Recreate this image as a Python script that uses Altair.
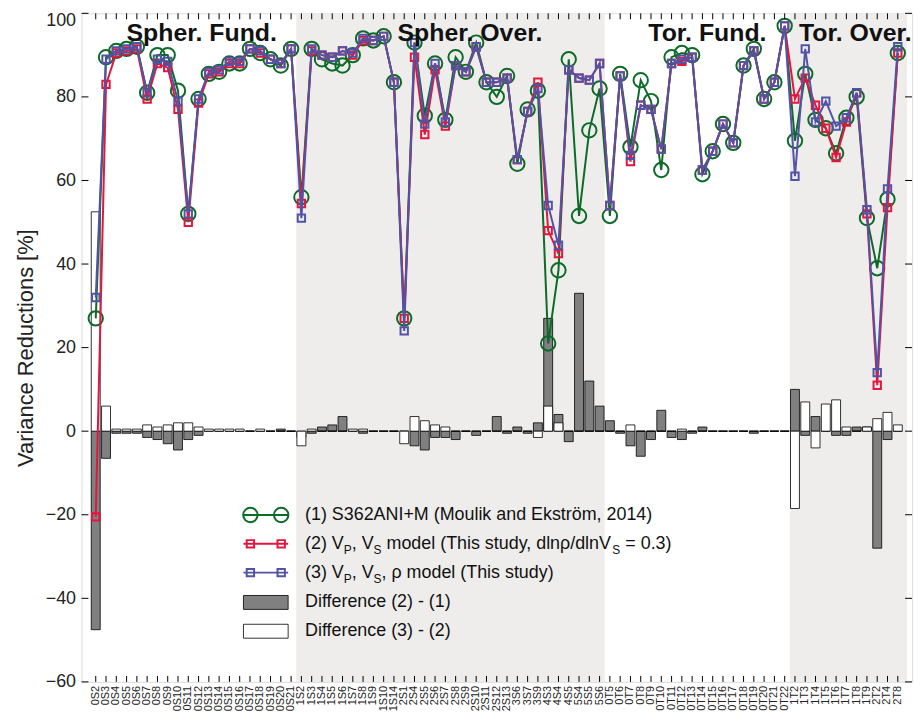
import altair as alt
import pandas as pd

modes = ["0S2","0S3","0S4","0S5","0S6","0S7","0S8","0S9","0S10","0S11","0S12","0S13","0S14","0S15","0S16","0S17","0S18","0S19","0S20","0S21",
         "1S2","1S3","1S4","1S5","1S6","1S7","1S8","1S9","1S10","1S14","2S1","2S4","2S5","2S6","2S7","2S8","2S9","2S10","2S11","2S12","2S13",
         "3S6","3S7","3S9","4S3","4S4","4S5","5S4","5S5","5S6",
         "0T5","0T6","0T7","0T8","0T9","0T10","0T11","0T12","0T13","0T14","0T15","0T16","0T17","0T18","0T19","0T20","0T21","0T22",
         "1T2","1T3","1T4","1T5","1T6","1T7","1T8","1T9","2T2","2T4","2T8"]

green = [27,89.5,91,91.5,92,81,90,90,81.5,52,79.5,85.5,86,88,88,91.5,90.5,89,87.5,91.5,
         56,91.5,89,88,87.5,90,94,93.5,94.5,83.5,27,93,75.5,88,74.5,89.5,86,93,83.5,80,85,64,77,81.5,21,38.5,89,51.5,72,82,
         51.5,85.5,68,84,79,62.5,89.5,90.5,90,61.5,67,73.5,69,87.5,91.5,79.5,83.5,97,
         69.5,85.5,74.5,72.5,66.5,75,80,51,39,55.5,90.5]
red = [-20.5,83,90.5,91,91.5,79.5,88,87,77,50,78.5,85.5,86,88,88,91.5,90.5,89,88,91.5,
       54.5,91,90,89.5,91,90,93.5,93.5,94.5,83.5,27,89.5,71,86.5,73,87.5,86,92,83.5,83.5,84.5,65,76.5,83.5,48,42.5,86.5,84.5,84,88,
       54,85,64.5,78,77,67.5,88,88.5,89.5,62.5,67,73.5,69,87.5,91,79.5,83.5,97,
       79.5,84.5,78,72.5,65.5,74,81,52,11,53.5,90.5]
blue = [32,89,91,91.5,92,81,89,88.5,79,52,79.5,86,86.5,88.5,88.5,91.5,91,89,88,91.5,
        51,91.5,90,89.5,91,90.5,94,93.5,94.5,83.5,24,93,73.5,88,74,87.5,86,92,83.5,83.5,84.5,65,76.5,82,54,44.5,86.5,84.5,84,88,
        54,85,66,78,77,67.5,88,89,89.5,62.5,67,73.5,69,87.5,91,79.5,83.5,97,
        61,91.5,74,79,73,75,81,53,14,58,92]

shade_start = [19.5, 67.5]
shade_end = [49.5, 78.9]
section_titles = ["Spher. Fund.", "Spher. Over.", "Tor. Fund.", "Tor. Over."]
section_title_x = [121, 391, 630, 779]
y_ticks = [-60, -40, -20, 0, 20, 40, 60, 80, 100]

W, H = 836, 673
XMIN, XMAX = -0.9, 78.9
FONT = "Liberation Sans"
GREEN, RED, BLUE = "#0b6b27", "#e3173e", "#5353a6"

n = len(modes)
df = pd.DataFrame({"idx": list(range(n)), "mode": modes, "g": green, "r": red, "b": blue})
df["d21"] = df["r"] - df["g"]
df["d32"] = df["b"] - df["r"]
df["zero"] = 0

xs = alt.Scale(domain=[XMIN, XMAX], nice=False, zero=False)
ys = alt.Scale(domain=[-60, 100], nice=False, zero=False)

y_axis = alt.Axis(values=y_ticks, labelFontSize=18, labelFont=FONT, ticks=False,
                  domain=False, grid=False, title="Variance Reductions [%]",
                  titleFontSize=22, titleFontWeight="normal", titleFont=FONT,
                  labelPadding=6, titlePadding=8, labelColor="#222", titleColor="#222",
                  labelFlush=False, labelOverlap=False,
                  labelOffset={"condition": {"test": "datum.value == 100", "value": 7}, "value": 0})

shade = alt.Chart(pd.DataFrame({"s": shade_start, "e": shade_end})).mark_rect(color="#eeedeb").encode(
    x=alt.X("s:Q", scale=xs, axis=None), x2="e:Q",
    y=alt.value(0), y2=alt.value(H))

base = alt.Chart(df)
bars21 = base.mark_bar(size=9, color="#808080", stroke="black", strokeWidth=0.8).encode(
    x=alt.X("idx:Q", scale=xs, axis=None), y=alt.Y("d21:Q", scale=ys, axis=y_axis), y2="zero:Q")
bars32 = base.mark_bar(size=9, color="white", stroke="black", strokeWidth=0.8).encode(
    x="idx:Q", y=alt.Y("d32:Q", scale=ys), y2="zero:Q")

gline = base.mark_line(color=GREEN, strokeWidth=2).encode(x="idx:Q", y=alt.Y("g:Q", scale=ys))
gpts = base.mark_point(shape="circle", filled=False, color=GREEN, size=210, strokeWidth=2, opacity=1).encode(x="idx:Q", y="g:Q")
rline = base.mark_line(color=RED, strokeWidth=2).encode(x="idx:Q", y=alt.Y("r:Q", scale=ys))
rpts = base.mark_point(shape="square", filled=False, color=RED, size=55, strokeWidth=2, opacity=1).encode(x="idx:Q", y="r:Q")
bline = base.mark_line(color=BLUE, strokeWidth=2).encode(x="idx:Q", y=alt.Y("b:Q", scale=ys))
bpts = base.mark_point(shape="square", filled=False, color=BLUE, size=55, strokeWidth=2, opacity=1).encode(x="idx:Q", y="b:Q")

# x tick labels (rotated) from the mode names
xlabels = base.mark_text(font=FONT, fontSize=11, angle=270, align="right", baseline="middle", color="#222").encode(
    x="idx:Q", y=alt.value(H + 4), text="mode:N")

# inward ticks
tick_df = pd.DataFrame({"idx": list(range(n))})
bt = alt.Chart(tick_df).mark_rule(color="black", strokeWidth=1).encode(x="idx:Q", y=alt.value(H), y2=alt.value(H - 6))
tt = alt.Chart(tick_df).mark_rule(color="black", strokeWidth=1).encode(x="idx:Q", y=alt.value(0), y2=alt.value(6))
yt_df = pd.DataFrame({"v": y_ticks})
lt = alt.Chart(yt_df).mark_rule(color="black", strokeWidth=1).encode(y=alt.Y("v:Q", scale=ys), x=alt.value(0), x2=alt.value(7))
rt = alt.Chart(yt_df).mark_rule(color="black", strokeWidth=1).encode(y=alt.Y("v:Q", scale=ys), x=alt.value(W - 7), x2=alt.value(W))

titles = alt.Chart(pd.DataFrame({"t": section_titles, "px": section_title_x})).mark_text(
    font=FONT, fontSize=25, fontWeight="bold", color="#111", baseline="middle").encode(
    text="t:N", x=alt.X("px:Q", scale=None), y=alt.value(20))

# ---------- custom legend ----------
AW = {' ':278,'(':333,')':333,',':278,'.':278,'-':333,'/':278,'=':584,'+':584,'V':667,'P':667,'S':667,'A':667,
      'N':722,'I':278,'M':833,'E':667,'T':611,'D':722,'a':556,'c':500,'d':556,'e':556,'f':278,'h':556,'i':222,
      'k':500,'l':222,'m':833,'n':556,'o':556,'r':333,'s':500,'t':278,'u':556,'y':500,'ö':556,'ρ':570}
def tw(s, fs):
    return sum(AW.get(c, 556) for c in s) * fs / 1000.0

LX_SYM0, LX_SYM1 = 245 - 82, 290 - 82
LX_TEXT = 307 - 82
row_y = [516 - 11, 545 - 11, 574 - 11, 604 - 11, 633 - 11]
FS, SFS = 18, 12
rows = [
    [("(1) S362ANI+M (Moulik and Ekström, 2014)", False)],
    [("(2) V", False), ("P", True), (", V", False), ("S", True), (" model (This study, dlnρ/dlnV", False), ("S", True), (" = 0.3)", False)],
    [("(3) V", False), ("P", True), (", V", False), ("S", True), (", ρ model (This study)", False)],
    [("Difference (2) - (1)", False)],
    [("Difference (3) - (2)", False)],
]
seg = []
for ri, r in enumerate(rows):
    x = LX_TEXT
    for s, sub in r:
        fs = SFS if sub else FS
        stripped = s.lstrip(" ")
        lead = tw(s[:len(s) - len(stripped)], fs)
        seg.append({"t": stripped, "x": x + lead, "y": row_y[ri] + (6 if sub else 0), "fs": fs})
        x += tw(s, fs)
seg_df = pd.DataFrame(seg)
leg_text = []
for fs in [FS, SFS]:
    d = seg_df[seg_df.fs == fs]
    leg_text.append(alt.Chart(d).mark_text(font=FONT, fontSize=fs, align="left", baseline="middle", color="#111").encode(
        text="t:N", x=alt.X("x:Q", scale=None), y=alt.Y("y:Q", scale=None)))

leg_lines = []
for k, (col, shp, sz) in enumerate([(GREEN, "circle", 210), (RED, "square", 55), (BLUE, "square", 55)]):
    yy = row_y[k]
    leg_lines.append(alt.Chart(pd.DataFrame({"a": [0]})).mark_rule(color=col, strokeWidth=2).encode(
        x=alt.value(LX_SYM0), x2=alt.value(LX_SYM1), y=alt.value(yy)))
    leg_lines.append(alt.Chart(pd.DataFrame({"px": [LX_SYM0 + 7, LX_SYM1 - 7]})).mark_point(
        shape=shp, filled=False, color=col, size=sz, strokeWidth=2, opacity=1).encode(
        x=alt.X("px:Q", scale=None), y=alt.value(yy)))
leg_rects = []
for k, fillc in [(3, "#808080"), (4, "white")]:
    leg_rects.append(alt.Chart(pd.DataFrame({"a": [0]})).mark_rect(fill=fillc, stroke="black", strokeWidth=0.8).encode(
        x=alt.value(LX_SYM0), x2=alt.value(LX_SYM1), y=alt.value(row_y[k] - 7), y2=alt.value(row_y[k] + 7)))

chart = alt.layer(shade, bars21, bars32, gline, gpts, rline, rpts, bline, bpts, xlabels, bt, tt, lt, rt, titles,
                  *leg_lines, *leg_rects, *leg_text).properties(
    width=W, height=H, autosize=alt.AutoSizeParams(type="none"),
    padding={"left": 74, "top": 3, "right": 2, "bottom": 37}
).configure_view(stroke="black", strokeWidth=1.2).configure(background="white")

chart.save("out.html", embed_options={"renderer": "svg", "actions": False})
